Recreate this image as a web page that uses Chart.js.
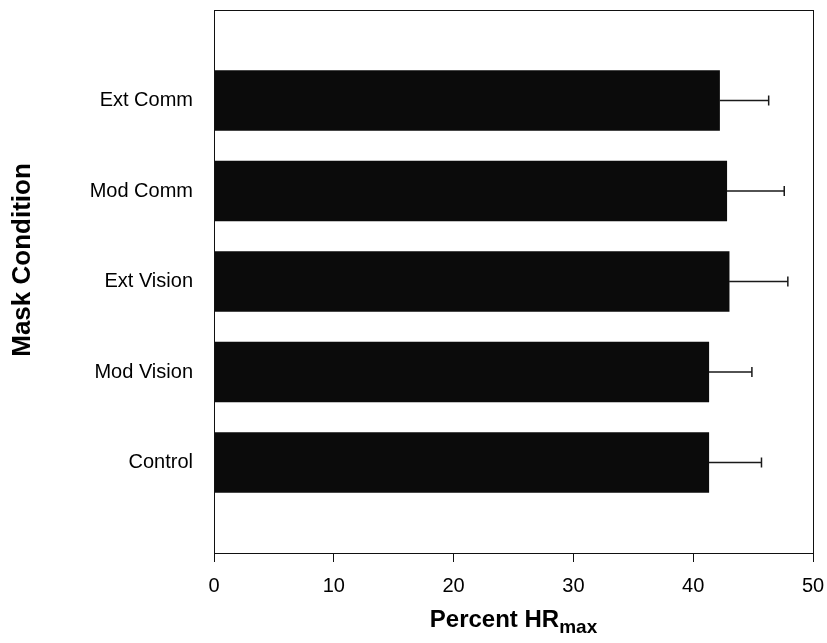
<!DOCTYPE html>
<html>
<head>
<meta charset="utf-8">
<script src="https://cdn.jsdelivr.net/npm/chart.js@4"></script>
<style>
  html, body { margin: 0; padding: 0; background: #fff; }
  #wrap { width: 827px; height: 643px; }
</style>
</head>
<body>
<div id="wrap"><canvas id="chart" width="827" height="643"></canvas></div>
<script>
// Mask conditions, top to bottom as drawn
var categories = ['Ext Comm', 'Mod Comm', 'Ext Vision', 'Mod Vision', 'Control'];
// mean percent of HRmax
var meanHR = [42.2, 42.8, 43.0, 41.3, 41.3];
// error bar (positive side only)
var errHR = [4.1, 4.8, 4.9, 3.6, 4.4];
var xTicks = [0, 10, 20, 30, 40, 50];

var FONT = '"Liberation Sans", Arial, sans-serif';

// slot number on the vertical axis: top row gets the highest
var points = categories.map(function (c, i) {
    return { x: meanHR[i], y: categories.length - i };
});

var errorBars = {
    id: 'errorBars',
    afterDatasetsDraw: function (chart) {
        var ctx = chart.ctx;
        var xs = chart.scales.x, ys = chart.scales.y;
        ctx.save();
        ctx.strokeStyle = '#1a1a1a';
        ctx.lineWidth = 1.5;
        points.forEach(function (p, i) {
            var x0 = xs.getPixelForValue(meanHR[i]);
            var x1 = xs.getPixelForValue(meanHR[i] + errHR[i]);
            var y = ys.getPixelForValue(p.y);
            ctx.beginPath();
            ctx.moveTo(x0, y);
            ctx.lineTo(x1, y);
            ctx.moveTo(x1, y - 5);
            ctx.lineTo(x1, y + 5);
            ctx.stroke();
        });
        ctx.restore();
    }
};

var frame = {
    id: 'frame',
    afterDraw: function (chart) {
        var a = chart.chartArea, ctx = chart.ctx;
        ctx.save();
        ctx.strokeStyle = '#111';
        ctx.lineWidth = 1;
        ctx.strokeRect(a.left + 0.5, a.top + 0.5, a.right - a.left, a.bottom - a.top);

        ctx.fillStyle = '#000';

        // y axis title
        ctx.save();
        ctx.translate(23, 260);
        ctx.rotate(-Math.PI / 2);
        ctx.textAlign = 'center';
        ctx.textBaseline = 'middle';
        ctx.font = 'bold 26px ' + FONT;
        ctx.fillText('Mask Condition', 0, 0);
        ctx.restore();

        // x axis title with subscript
        var cx = (a.left + a.right) / 2;
        ctx.textBaseline = 'alphabetic';
        ctx.textAlign = 'left';
        ctx.font = 'bold 24px ' + FONT;
        var main = 'Percent HR';
        var w1 = ctx.measureText(main).width;
        ctx.font = 'bold 19px ' + FONT;
        var w2 = ctx.measureText('max').width;
        var sx = cx - (w1 + w2) / 2;
        ctx.font = 'bold 24px ' + FONT;
        ctx.fillText(main, sx, 627);
        ctx.font = 'bold 19px ' + FONT;
        ctx.fillText('max', sx + w1, 633);
        ctx.restore();
    }
};

var ctx = document.getElementById('chart').getContext('2d');
var chart = new Chart(ctx, {
    type: 'bar',
    data: {
        datasets: [{
            data: points,
            backgroundColor: '#0b0b0b',
            borderWidth: 0,
            barThickness: 60
        }]
    },
    options: {
        indexAxis: 'y',
        responsive: false,
        animation: false,
        layout: { autoPadding: false, padding: { top: 10, right: 14, left: 0, bottom: 0 } },
        plugins: { legend: { display: false }, tooltip: { enabled: false } },
        scales: {
            x: {
                type: 'linear',
                min: 0,
                max: 50,
                afterBuildTicks: function (scale) {
                    scale.ticks = xTicks.map(function (v) { return { value: v }; });
                },
                afterFit: function (scale) {
                    scale.height = 90;
                    scale.paddingLeft = 0;
                    scale.paddingRight = 0;
                },
                grid: { drawOnChartArea: false, drawTicks: true, tickLength: 9, color: '#111' },
                border: { display: true, color: '#111' },
                ticks: {
                    color: '#000',
                    padding: 12,
                    font: { family: FONT, size: 20 }
                }
            },
            y: {
                type: 'linear',
                offset: false,
                min: 0,
                max: 6,
                afterBuildTicks: function (scale) {
                    scale.ticks = categories.map(function (c, i) {
                        return { value: categories.length - i };
                    });
                },
                afterFit: function (scale) {
                    scale.width = 214;
                    scale.paddingTop = 0;
                    scale.paddingBottom = 0;
                },
                grid: { display: false },
                border: { display: true, color: '#111' },
                ticks: {
                    color: '#000',
                    padding: 13,
                    font: { family: FONT, size: 20 },
                    callback: function (v) { return categories[categories.length - v]; }
                }
            }
        }
    },
    plugins: [errorBars, frame]
});
</script>
</body>
</html>
